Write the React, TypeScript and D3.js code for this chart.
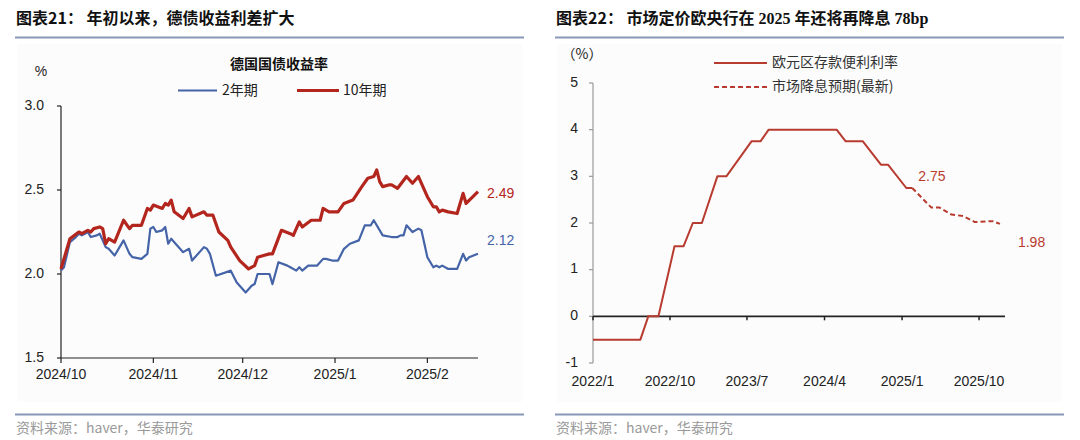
import React from "react";
import * as d3 from "d3";

// ---------- Left chart data (German bund yields, %) ----------
const bund10yDates = [
  "2024-10-01","2024-10-04","2024-10-07","2024-10-08","2024-10-10","2024-10-11","2024-10-12","2024-10-14","2024-10-15","2024-10-16",
  "2024-10-17","2024-10-19","2024-10-22","2024-10-24","2024-10-25","2024-10-28","2024-10-30","2024-10-31","2024-11-01","2024-11-04",
  "2024-11-05","2024-11-06","2024-11-07","2024-11-08","2024-11-11","2024-11-13","2024-11-14","2024-11-18","2024-11-19","2024-11-21",
  "2024-11-23","2024-11-26","2024-11-27","2024-11-30","2024-12-03","2024-12-05","2024-12-06","2024-12-08","2024-12-10","2024-12-11",
  "2024-12-14","2024-12-17","2024-12-18","2024-12-20","2024-12-21","2024-12-24","2024-12-27","2024-12-28","2024-12-30","2025-01-02",
  "2025-01-04","2025-01-07","2025-01-10","2025-01-12","2025-01-14","2025-01-15","2025-01-16","2025-01-17","2025-01-19","2025-01-20",
  "2025-01-22","2025-01-25","2025-01-27","2025-01-29","2025-02-01","2025-02-03","2025-02-04","2025-02-05","2025-02-06","2025-02-08",
  "2025-02-11","2025-02-13","2025-02-14","2025-02-18",
];
const bund10yValues = [
  2.03,2.21,2.25,2.24,2.26,2.25,2.27,2.28,2.27,2.18,
  2.21,2.19,2.32,2.27,2.29,2.29,2.39,2.38,2.41,2.39,
  2.42,2.41,2.44,2.37,2.33,2.39,2.34,2.37,2.35,2.35,
  2.25,2.20,2.16,2.08,2.03,2.05,2.10,2.11,2.12,2.12,
  2.26,2.24,2.23,2.31,2.28,2.32,2.32,2.39,2.37,2.37,
  2.42,2.44,2.52,2.57,2.58,2.62,2.55,2.52,2.53,2.53,
  2.51,2.58,2.54,2.58,2.46,2.40,2.40,2.37,2.38,2.37,
  2.36,2.48,2.42,2.49,
];
const bund2yDates = [
  "2024-10-01","2024-10-02","2024-10-04","2024-10-06","2024-10-07","2024-10-08","2024-10-09","2024-10-10","2024-10-11","2024-10-13",
  "2024-10-14","2024-10-15","2024-10-16","2024-10-17","2024-10-19","2024-10-22","2024-10-24","2024-10-25","2024-10-28","2024-10-30",
  "2024-10-31","2024-11-01","2024-11-02","2024-11-04","2024-11-05","2024-11-06","2024-11-07","2024-11-09","2024-11-11","2024-11-13",
  "2024-11-14","2024-11-18","2024-11-19","2024-11-20","2024-11-22","2024-11-27","2024-11-29","2024-12-02","2024-12-04","2024-12-05",
  "2024-12-06","2024-12-10","2024-12-11","2024-12-13","2024-12-16","2024-12-17","2024-12-19","2024-12-20","2024-12-21","2024-12-23",
  "2024-12-26","2024-12-28","2024-12-29","2024-12-31","2025-01-02","2025-01-04","2025-01-06","2025-01-09","2025-01-11","2025-01-13",
  "2025-01-14","2025-01-17","2025-01-20","2025-01-22","2025-01-23","2025-01-24","2025-01-25","2025-01-27","2025-01-29","2025-01-30",
  "2025-02-01","2025-02-03","2025-02-04","2025-02-05","2025-02-06","2025-02-08","2025-02-11","2025-02-13","2025-02-14","2025-02-15",
  "2025-02-18",
];
const bund2yValues = [
  2.02,2.04,2.19,2.22,2.24,2.23,2.24,2.25,2.22,2.23,
  2.24,2.20,2.16,2.15,2.11,2.20,2.12,2.10,2.09,2.12,
  2.27,2.28,2.25,2.26,2.28,2.18,2.21,2.17,2.13,2.15,
  2.08,2.16,2.15,2.12,1.99,2.02,1.95,1.89,1.93,1.94,
  2.00,2.00,1.94,2.07,2.05,2.04,2.02,2.04,2.02,2.05,
  2.05,2.09,2.09,2.08,2.08,2.15,2.18,2.20,2.29,2.29,
  2.32,2.23,2.22,2.22,2.23,2.23,2.29,2.25,2.27,2.26,
  2.10,2.04,2.05,2.04,2.05,2.03,2.03,2.12,2.08,2.10,
  2.12,
];
const leftYTicks = [1.5, 2.0, 2.5, 3.0];
const leftXTickDates = ["2024-10-01", "2024-11-01", "2024-12-01", "2025-01-01", "2025-02-01"];
const leftXTickLabels = ["2024/10", "2024/11", "2024/12", "2025/1", "2025/2"];
const leftDomain = ["2024-10-01", "2025-02-18"];

// ---------- Right chart data (ECB deposit facility rate, %) ----------
const ecbDates = [
  "2022-01-01","2022-06-18","2022-07-16","2022-08-21","2022-10-17","2022-11-18","2022-12-21","2023-01-22","2023-03-18","2023-04-19",
  "2023-07-17","2023-08-18","2023-09-16","2024-05-14","2024-06-15","2024-08-15","2024-10-18","2024-11-12","2025-01-16","2025-02-06",
];
const ecbValues = [
  -0.5,-0.5,0,0,1.5,1.5,2.0,2.0,3.0,3.0,
  3.75,3.75,4.0,4.0,3.75,3.75,3.25,3.25,2.75,2.75,
];
const marketDates = ["2025-02-06","2025-04-15","2025-05-14","2025-06-25","2025-08-06","2025-09-16","2025-11-19","2025-12-14"];
const marketValues = [2.75, 2.33, 2.33, 2.18, 2.15, 2.02, 2.04, 1.98];
const rightYTicks = [-1, 0, 1, 2, 3, 4, 5];
const rightXTickDates = ["2022-01-01", "2022-10-01", "2023-07-01", "2024-04-01", "2025-01-01", "2025-10-01"];
const rightXTickLabels = ["2022/1", "2022/10", "2023/7", "2024/4", "2025/1", "2025/10"];
const rightDomain = ["2022-01-01", "2026-01-01"];

const parse = d3.timeParse("%Y-%m-%d");
const RED = "#b3261e";
const BLUE = "#4564a8";
const RED2 = "#b83b30";
const LAT = "'Liberation Sans', Arial, 'Noto Sans CJK SC', sans-serif";
const CJK = "'Noto Sans CJK SC', 'Liberation Sans', sans-serif";
const SEP = "#8798b8";

type Pt = { d: Date; v: number };
const zip = (ds: string[], vs: number[]): Pt[] => ds.map((s, i) => ({ d: parse(s) as Date, v: vs[i] }));

function LeftChart() {
  const x = d3.scaleTime().domain(leftDomain.map((s) => parse(s) as Date)).range([61, 478]);
  const y = d3.scaleLinear().domain([1.5, 3.0]).range([358, 106]);
  const line = d3.line<Pt>().x((p) => x(p.d)).y((p) => y(p.v));
  const s10 = zip(bund10yDates, bund10yValues);
  const s2 = zip(bund2yDates, bund2yValues);
  const last10 = s10[s10.length - 1];
  const last2 = s2[s2.length - 1];
  return (
    <g>
      <text x={16} y={24} fontFamily={CJK} fontWeight={700} fontSize={16} fill="#111">
        图表21： 年初以来，德债收益利差扩大
      </text>
      <line x1={15} x2={524} y1={37.5} y2={37.5} stroke={SEP} strokeWidth={2} />
      <rect x={17} y={44} width={505} height={358} fill="#fcfcfc" />
      <text x={41} y={72} fontFamily={LAT} fontSize={14} fill="#222" textAnchor="middle" dominantBaseline="middle">%</text>
      <text x={279} y={65} fontFamily={CJK} fontWeight={700} fontSize={14} fill="#111" textAnchor="middle" dominantBaseline="middle">德国国债收益率</text>
      <line x1={178} x2={217} y1={90.5} y2={90.5} stroke={BLUE} strokeWidth={2.2} />
      <text x={222} y={91} fontFamily={CJK} fontSize={14} fill="#222" dominantBaseline="middle">2年期</text>
      <line x1={297} x2={339} y1={90.5} y2={90.5} stroke={RED} strokeWidth={3.2} />
      <text x={343} y={91} fontFamily={CJK} fontSize={14} fill="#222" dominantBaseline="middle">10年期</text>
      {/* axes */}
      <line x1={61} x2={61} y1={y(3.0)} y2={y(1.5)} stroke="#222" strokeWidth={1.2} />
      {leftYTicks.map((t) => (
        <g key={t}>
          <line x1={57} x2={61} y1={y(t)} y2={y(t)} stroke="#222" strokeWidth={1.2} />
          <text x={44} y={y(t)} fontFamily={LAT} fontSize={14} fill="#222" textAnchor="end" dominantBaseline="middle">
            {d3.format(".1f")(t)}
          </text>
        </g>
      ))}
      <line x1={61} x2={478} y1={358} y2={358} stroke="#222" strokeWidth={1.2} />
      {leftXTickDates.map((s, i) => {
        const xx = x(parse(s) as Date);
        return (
          <g key={s}>
            <line x1={xx} x2={xx} y1={358} y2={363} stroke="#222" strokeWidth={1.2} />
            <text x={xx} y={375} fontFamily={LAT} fontSize={14} fill="#222" textAnchor="middle" dominantBaseline="middle">
              {leftXTickLabels[i]}
            </text>
          </g>
        );
      })}
      <path d={line(s2) || ""} fill="none" stroke={BLUE} strokeWidth={2.2} strokeLinejoin="round" />
      <path d={line(s10) || ""} fill="none" stroke={RED} strokeWidth={3.2} strokeLinejoin="round" />
      <text x={x(last10.d) + 9} y={y(last10.v) + 3} fontFamily={LAT} fontSize={14} fill={RED} dominantBaseline="middle">
        {d3.format(".2f")(last10.v)}
      </text>
      <text x={x(last2.d) + 9} y={y(last2.v) - 13} fontFamily={LAT} fontSize={14} fill={BLUE} dominantBaseline="middle">
        {d3.format(".2f")(last2.v)}
      </text>
      <line x1={15} x2={524} y1={414.5} y2={414.5} stroke={SEP} strokeWidth={2} />
      <text x={16} y={429} fontFamily={CJK} fontSize={14} fill="#9a9a9a" dominantBaseline="middle">
        资料来源：haver，华泰研究
      </text>
    </g>
  );
}

function RightChart() {
  const x = d3.scaleTime().domain(rightDomain.map((s) => parse(s) as Date)).range([593, 1005]);
  const y = d3.scaleLinear().domain([-1, 5]).range([363, 83]);
  const line = d3.line<Pt>().x((p) => x(p.d)).y((p) => y(p.v));
  const ecb = zip(ecbDates, ecbValues);
  const mkt = zip(marketDates, marketValues);
  const lastE = ecb[ecb.length - 1];
  const lastM = mkt[mkt.length - 1];
  return (
    <g>
      <text x={556} y={24} fontFamily={CJK} fontWeight={700} fontSize={16} fill="#111">
        图表22： 市场定价欧央行在
        <tspan fontFamily="'Liberation Serif', serif"> 2025 </tspan>
        年还将再降息
        <tspan fontFamily="'Liberation Serif', serif"> 78bp</tspan>
      </text>
      <line x1={555} x2={1064} y1={37.5} y2={37.5} stroke={SEP} strokeWidth={2} />
      <rect x={557} y={44} width={505} height={358} fill="#fcfcfc" />
      <text x={582} y={55} fontFamily={CJK} fontSize={14} fill="#222" textAnchor="middle" dominantBaseline="middle">（%）</text>
      <line x1={714} x2={767} y1={63} y2={63} stroke={RED2} strokeWidth={2} />
      <text x={772} y={63} fontFamily={CJK} fontSize={14} fill="#333" dominantBaseline="middle">欧元区存款便利利率</text>
      <line x1={714} x2={767} y1={87} y2={87} stroke={RED2} strokeWidth={2} strokeDasharray="5,3" />
      <text x={772} y={87} fontFamily={CJK} fontSize={14} fill="#333" dominantBaseline="middle">市场降息预期(最新)</text>
      {/* y axis */}
      <line x1={593} x2={593} y1={y(5)} y2={y(-1)} stroke="#9a9a9a" strokeWidth={1.2} />
      {rightYTicks.map((t) => (
        <g key={t}>
          <line x1={589} x2={593} y1={y(t)} y2={y(t)} stroke="#9a9a9a" strokeWidth={1.2} />
          <text x={578} y={y(t)} fontFamily={LAT} fontSize={14} fill="#222" textAnchor="end" dominantBaseline="middle">
            {t}
          </text>
        </g>
      ))}
      {/* x axis on zero line */}
      <line x1={593} x2={1005} y1={y(0)} y2={y(0)} stroke="#222" strokeWidth={1.8} />
      {rightXTickDates.map((s, i) => {
        const xx = x(parse(s) as Date);
        return (
          <g key={s}>
            <line x1={xx} x2={xx} y1={y(0)} y2={y(0) + 4} stroke="#222" strokeWidth={1.5} />
            <text x={xx} y={382} fontFamily={LAT} fontSize={14} fill="#222" textAnchor="middle" dominantBaseline="middle">
              {rightXTickLabels[i]}
            </text>
          </g>
        );
      })}
      <path d={line(ecb) || ""} fill="none" stroke={RED2} strokeWidth={2} strokeLinejoin="round" />
      <path d={line(mkt) || ""} fill="none" stroke={RED2} strokeWidth={2} strokeDasharray="5,3" strokeLinejoin="round" />
      <text x={x(lastE.d) + 6} y={y(lastE.v) - 11} fontFamily={LAT} fontSize={14} fill={RED2} dominantBaseline="middle">
        {d3.format(".2f")(lastE.v)}
      </text>
      <text x={x(lastM.d) + 18} y={y(lastM.v) + 19} fontFamily={LAT} fontSize={14} fill={RED2} dominantBaseline="middle">
        {d3.format(".2f")(lastM.v)}
      </text>
      <line x1={555} x2={1064} y1={414.5} y2={414.5} stroke={SEP} strokeWidth={2} />
      <text x={556} y={429} fontFamily={CJK} fontSize={14} fill="#9a9a9a" dominantBaseline="middle">
        资料来源：haver，华泰研究
      </text>
    </g>
  );
}

export default function App() {
  return (
    <svg
      width={1080}
      height={440}
      viewBox="0 0 1080 440"
      style={{ position: "absolute", left: 0, top: 0, background: "#fff" }}
    >
      <rect x={0} y={0} width={1080} height={440} fill="#fff" />
      <LeftChart />
      <RightChart />
    </svg>
  );
}
